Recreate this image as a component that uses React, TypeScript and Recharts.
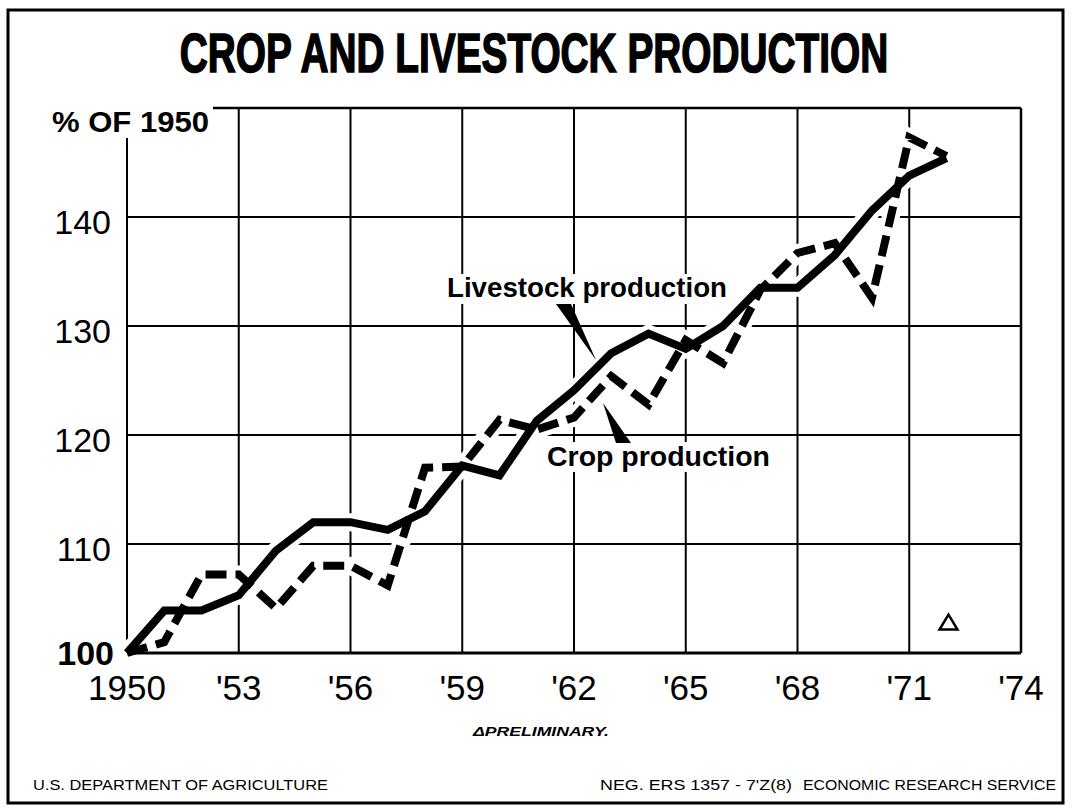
import React from 'react';
import {
  ComposedChart,
  Line,
  XAxis,
  YAxis,
  CartesianGrid,
  ReferenceLine,
  ReferenceDot,
} from 'recharts';

// ---- data ----
const years = [
  1950, 1951, 1952, 1953, 1954, 1955, 1956, 1957, 1958, 1959, 1960, 1961,
  1962, 1963, 1964, 1965, 1966, 1967, 1968, 1969, 1970, 1971, 1972,
];
const livestock = [
  100, 103.9, 103.9, 105.3, 109.4, 112.0, 112.0, 111.3, 113.0, 117.2, 116.3,
  121.3, 124.1, 127.5, 129.3, 127.9, 130.0, 133.5, 133.5, 136.5, 140.6, 143.8,
  145.4,
];
const crop = [
  100, 101.0, 107.2, 107.2, 104.1, 108.0, 108.0, 106.2, 117.0, 117.1, 121.4,
  120.5, 121.6, 125.4, 122.8, 128.7, 126.6, 133.3, 136.7, 137.6, 132.6, 147.3,
  145.6,
];
const majorYearTicks = [1950, 1953, 1956, 1959, 1962, 1965, 1968, 1971, 1974];
const majorYearLabels = ['1950', "'53", "'56", "'59", "'62", "'65", "'68", "'71", "'74"];
const minorYearTicks = [
  1951, 1952, 1954, 1955, 1957, 1958, 1960, 1961, 1963, 1964, 1966, 1967,
  1969, 1970, 1972, 1973,
];
const valueTicks = [100, 110, 120, 130, 140];
const minorValueTicks = [105, 115, 125, 135, 145];
const preliminaryYear = 1972;
const preliminaryValue = 102.7;

const data = years.map((y, i) => ({ year: y, livestock: livestock[i], crop: crop[i] }));

const SANS = "'Liberation Sans', Arial, sans-serif";

const XTick = (props: any) => {
  const { x, y, payload } = props;
  const idx = majorYearTicks.indexOf(payload.value);
  const label = idx >= 0 ? majorYearLabels[idx] : String(payload.value);
  return (
    <text x={x} y={y + 47} textAnchor="middle" fontFamily={SANS} fontSize={35} fill="#000">
      {label}
    </text>
  );
};

const YTick = (props: any) => {
  const { x, y, payload } = props;
  const isBase = payload.value === 100;
  return (
    <text
      x={isBase ? x - 13 : x - 16}
      y={isBase ? y + 12 : y + 17}
      textAnchor="end"
      fontFamily={SANS}
      fontSize={34}
      fontWeight={isBase ? 'bold' : 'normal'}
      fill="#000"
    >
      {payload.value}
    </text>
  );
};

const Triangle = (props: any) => {
  const { cx, cy } = props;
  return (
    <polygon
      points={`${cx + 2},${cy - 9} ${cx - 7},${cy + 6} ${cx + 11},${cy + 6}`}
      fill="#fff"
      stroke="#000"
      strokeWidth={2.5}
      strokeLinejoin="miter"
    />
  );
};

export default function App() {
  return (
    <div style={{ position: 'absolute', left: 0, top: 0, width: 1072, height: 808, background: '#fff' }}>
      <div style={{ position: 'absolute', left: 0, top: 0 }}>
        <ComposedChart
          width={1072}
          height={808}
          data={data}
          margin={{ top: 108, right: 51, bottom: 0, left: 0 }}
        >
          <CartesianGrid stroke="#000" strokeWidth={2} />
          <XAxis
            dataKey="year"
            type="number"
            domain={[1950, 1974]}
            ticks={majorYearTicks}
            interval={0}
            height={155}
            axisLine={false}
            tickLine={false}
            tickSize={0}
            tickMargin={0}
            tick={<XTick />}
          />
          <XAxis
            xAxisId="minor"
            dataKey="year"
            type="number"
            domain={[1950, 1974]}
            ticks={minorYearTicks}
            interval={0}
            mirror
            tickSize={10}
            tick={false}
            tickLine={{ stroke: '#000', strokeWidth: 2 }}
            axisLine={{ stroke: '#000', strokeWidth: 3 }}
          />
          <YAxis
            type="number"
            domain={[100, 150]}
            ticks={valueTicks}
            interval={0}
            width={127}
            axisLine={false}
            tickLine={false}
            tickSize={0}
            tickMargin={0}
            tick={<YTick />}
          />
          <YAxis
            yAxisId="minorL"
            type="number"
            domain={[100, 150]}
            ticks={minorValueTicks}
            interval={0}
            orientation="left"
            mirror
            tickSize={13}
            tick={false}
            axisLine={false}
            tickLine={{ stroke: '#000', strokeWidth: 2 }}
          />
          <YAxis
            yAxisId="minorR"
            type="number"
            domain={[100, 150]}
            ticks={minorValueTicks}
            interval={0}
            orientation="right"
            mirror
            tickSize={13}
            tick={false}
            axisLine={{ stroke: '#000', strokeWidth: 2.5 }}
            tickLine={{ stroke: '#000', strokeWidth: 2 }}
          />
          <ReferenceLine y={150} stroke="#000" strokeWidth={2.5} />

          <Line
            dataKey="crop"
            type="linear"
            stroke="#fff"
            strokeWidth={18}
            dot={false}
            isAnimationActive={false}
          />
          <Line
            dataKey="livestock"
            type="linear"
            stroke="#fff"
            strokeWidth={18}
            dot={false}
            isAnimationActive={false}
          />
          <Line
            dataKey="livestock"
            type="linear"
            stroke="#000"
            strokeWidth={8}
            dot={false}
            isAnimationActive={false}
          />
          <Line
            dataKey="crop"
            type="linear"
            stroke="#000"
            strokeWidth={8}
            strokeDasharray="21 9"
            dot={false}
            isAnimationActive={false}
          />
          <ReferenceDot
            x={preliminaryYear}
            y={preliminaryValue}
            r={9}
            shape={<Triangle />}
          />
        </ComposedChart>
      </div>

      <svg
        width={1072}
        height={808}
        style={{ position: 'absolute', left: 0, top: 0, pointerEvents: 'none' }}
      >
        {/* outer frame */}
        <rect x={8} y={10} width={1055} height={793} fill="none" stroke="#000" strokeWidth={3} />

        {/* title */}
        <text
          x={534}
          y={72}
          textAnchor="middle"
          fontFamily={SANS}
          fontWeight="bold"
          fontSize={56}
          stroke="#000"
          strokeWidth={1.6}
          fill="#000"
          transform="translate(534 0) scale(0.693 1) translate(-534 0)"
        >
          CROP AND LIVESTOCK PRODUCTION
        </text>

        {/* y unit label */}
        <rect x={40} y={98} width={173} height={40} fill="#fff" />
        <text
          x={52}
          y={132}
          fontFamily={SANS}
          fontWeight="bold"
          fontSize={29}
          textLength={157}
          lengthAdjust="spacingAndGlyphs"
          fill="#000"
        >
          % OF 1950
        </text>

        {/* annotations */}
        <rect x={442} y={274} width={290} height={30} fill="#fff" />
        <text
          x={447}
          y={297}
          fontFamily={SANS}
          fontWeight="bold"
          fontSize={27}
          textLength={280}
          lengthAdjust="spacingAndGlyphs"
          fill="#000"
        >
          Livestock production
        </text>
        <polygon points="556,304 571,304 596,360" fill="#000" />

        <rect x={543} y={442} width={232} height={30} fill="#fff" />
        <text
          x={547}
          y={466}
          fontFamily={SANS}
          fontWeight="bold"
          fontSize={27}
          textLength={223}
          lengthAdjust="spacingAndGlyphs"
          fill="#000"
        >
          Crop production
        </text>
        <polygon points="603,403 616,443 631,443" fill="#000" />

        {/* preliminary note */}
        <text
          x={473}
          y={736}
          fontFamily={SANS}
          fontWeight="bold"
          fontStyle="italic"
          fontSize={13}
          textLength={136}
          lengthAdjust="spacingAndGlyphs"
          fill="#000"
        >
          ΔPRELIMINARY.
        </text>

        {/* footer */}
        <text
          x={33}
          y={790}
          fontFamily={SANS}
          fontSize={14}
          textLength={295}
          lengthAdjust="spacingAndGlyphs"
          fill="#000"
        >
          U.S. DEPARTMENT OF AGRICULTURE
        </text>
        <text
          x={600}
          y={790}
          fontFamily={SANS}
          fontSize={14}
          textLength={192}
          lengthAdjust="spacingAndGlyphs"
          fill="#000"
        >
          NEG. ERS 1357 - 7'Z(8)
        </text>
        <text
          x={803}
          y={790}
          fontFamily={SANS}
          fontSize={14}
          textLength={253}
          lengthAdjust="spacingAndGlyphs"
          fill="#000"
        >
          ECONOMIC RESEARCH SERVICE
        </text>
      </svg>
    </div>
  );
}
